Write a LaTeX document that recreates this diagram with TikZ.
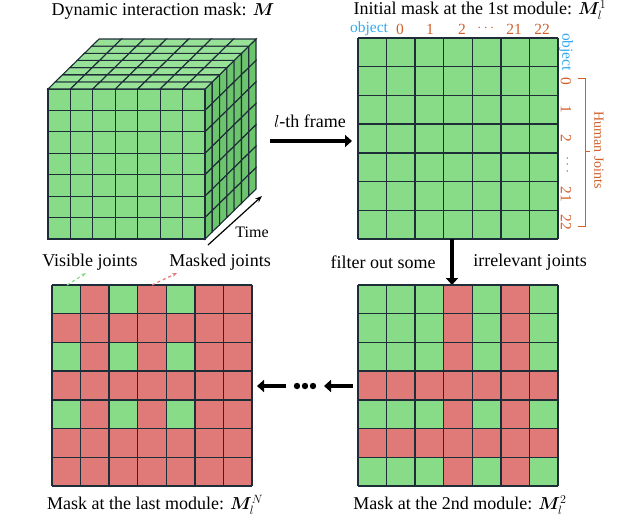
\documentclass[tikz,border=0pt]{standalone}
\usepackage{amsmath,bm}
\usepackage{fontspec}
\setmainfont{Liberation Serif}
\usetikzlibrary{arrows.meta}
\definecolor{gr}{HTML}{88DC88}
\definecolor{grt}{HTML}{98E298}
\definecolor{grs}{HTML}{6CC46C}
\definecolor{rd}{HTML}{E07A78}
\definecolor{ln}{HTML}{1E2E38}
\definecolor{obj}{HTML}{33AAEE}
\definecolor{hj}{HTML}{D0602A}
\tikzset{x=1pt,y=-1pt,
  txt/.style={font=\fontsize{18}{20}\selectfont,inner sep=0pt},
  lbl/.style={font=\fontsize{15.5}{17}\selectfont,inner sep=0pt},
  fat/.style={line width=4pt,-{Triangle[length=7pt,width=12pt]}}}
\newcommand{\mygrid}[4]{%
  \foreach \row [count=\r from 0] in {#4}{
    \foreach \c [count=\k from 0] in \row {
      \if\c G\def\fc{gr}\else\def\fc{rd}\fi
      \fill[\fc] (#1+\k*28.57,#2+\r*28.71) rectangle ++(28.57,28.71);
    }}
  \foreach \i in {0,...,7}{
    \draw[ln,line width=1.4pt] (#1+\i*28.57,#2) -- ++(0,201);
    \draw[ln,line width=1.4pt] (#1,#2+\i*28.71) -- ++(200,0);}
  \coordinate (#3) at (#1+100,#2+100.5);
}
\begin{document}
\begin{tikzpicture}
\useasboundingbox (0,0) rectangle (640,531);
\def\cw{22.43}\def\ch{21.43}\def\dx{7.29}\def\dy{-7.14}
\foreach \i in {0,...,6}{\foreach \j in {0,...,6}{
  \filldraw[fill=gr,draw=ln,line width=1.1pt] (48+\i*\cw,89+\j*\ch) rectangle ++(\cw,\ch);
  \filldraw[fill=grt,draw=ln,line width=1.1pt] (48+\i*\cw+\j*\dx,89+\j*\dy) -- ++(\cw,0) -- ++(\dx,\dy) -- ++(-\cw,0) -- cycle;
  \filldraw[fill=grs,draw=ln,line width=1.1pt] (205+\j*\dx,89+\i*\ch+\j*\dy) -- ++(\dx,\dy) -- ++(0,\ch) -- ++(-\dx,-\dy) -- cycle;
}}
\coordinate (cube) at (205,140);
\draw[line width=1.2pt,-{Stealth[length=7pt]}] (208,245) -- (262,196);
\node[lbl,font=\fontsize{16}{18}\selectfont] (time) at (252,232) {Time};
\node[txt] (t1) at (163,11) {Dynamic interaction mask: $\bm{M}$};
\mygrid{358}{38}{g1}{{G,G,G,G,G,G,G},{G,G,G,G,G,G,G},{G,G,G,G,G,G,G},{G,G,G,G,G,G,G},{G,G,G,G,G,G,G},{G,G,G,G,G,G,G},{G,G,G,G,G,G,G}}
\node[txt] (t2) at (480,10) {Initial mask at the 1st module: $\bm{M}_l^1$};
\node[lbl,text=obj] at (369,29) {object};
\foreach \t/\x in {0/400,1/430,2/462,21/514,22/542}{\node[lbl,text=hj] at (\x,29) {\t};}
\node[lbl,text=hj] at (487,28) {$\cdots$};
\node[lbl,text=obj,rotate=-90] at (566,52) {object};
\foreach \t/\y in {0/81,1/109,2/138,21/194,22/222}{\node[lbl,text=hj,rotate=-90] at (566,\y) {\t};}
\node[lbl,text=hj,rotate=-90] at (567,166) {$\cdots$};
\draw[hj,line width=0.8pt] (578,78) -- (585,78) -- (585,226) -- (578,226) (585,151) -- (590,151);
\node[font=\fontsize{14}{16}\selectfont,text=hj,rotate=-90,inner sep=0pt] (hjl) at (599,150) {Human Joints};
\coordinate (a1s) at (270,141); \coordinate (a1e) at (352,141);
\draw[fat] (a1s) -- (a1e);
\node[txt] (lf) at (310,121) {$l$-th frame};
\coordinate (a2s) at (452,239); \coordinate (a2e) at (452,285);
\draw[fat] (a2s) -- (a2e);
\node[txt] (fo) at (383,262) {filter out some};
\node[txt] (ir) at (530,262) {irrelevant joints};
\mygrid{358}{285}{g2}{{G,G,G,R,G,R,G},{G,G,G,R,G,R,G},{G,G,G,R,G,R,G},{R,R,R,R,R,R,R},{G,G,G,R,G,R,G},{R,R,R,R,R,R,R},{G,G,G,R,G,R,G}}
\mygrid{52}{285}{g3}{{G,R,G,R,G,R,R},{R,R,R,R,R,R,R},{G,R,G,R,G,R,R},{R,R,R,R,R,R,R},{G,R,G,R,G,R,R},{R,R,R,R,R,R,R},{R,R,R,R,R,R,R}}
\node[txt] (c2) at (460,505) {Mask at the 2nd module: $\bm{M}_l^2$};
\node[txt] (c3) at (155,505) {Mask at the last module: $\bm{M}_l^N$};
\draw[fat] (353,386) -- (324,386);
\foreach \x in {297,305,313}{\fill (\x,386) circle (3.2pt);}
\draw[fat] (286,386) -- (257,386);
\node[txt] (vj) at (90,262) {Visible joints};
\node[txt] (mj) at (220,262) {Masked joints};
\draw[gr,dashed,line width=1.2pt,-{Stealth[length=5pt]}] (67,285) -- (86,273);
\draw[rd,dashed,line width=1.2pt,-{Stealth[length=5pt]}] (152,285) -- (177,273);
\end{tikzpicture}
\end{document}
